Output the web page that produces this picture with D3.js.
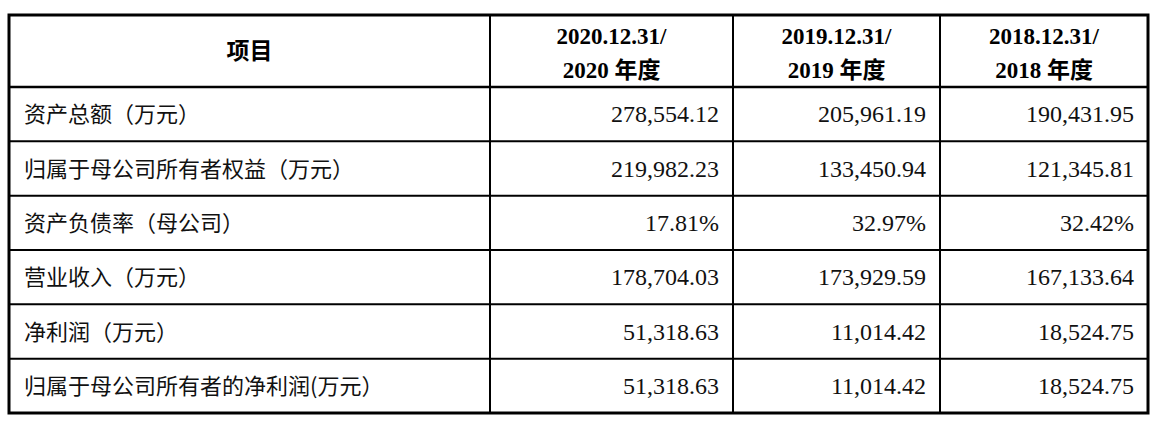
<!DOCTYPE html>
<html><head><meta charset="utf-8">
<script src="https://cdn.jsdelivr.net/npm/d3@7"></script>
<style>body{margin:0;background:#fff}</style></head>
<body><svg id="c" width="1162" height="430"></svg>
<script>
const headers1 = ["项目", "2020.12.31/", "2019.12.31/", "2018.12.31/"];
const headers2 = ["", "2020 年度", "2019 年度", "2018 年度"];
const items = ["资产总额（万元）","归属于母公司所有者权益（万元）","资产负债率（母公司）","营业收入（万元）","净利润（万元）","归属于母公司所有者的净利润(万元）"];
const v2020 = ["278,554.12","219,982.23","17.81%","178,704.03","51,318.63","51,318.63"];
const v2019 = ["205,961.19","133,450.94","32.97%","173,929.59","11,014.42","11,014.42"];
const v2018 = ["190,431.95","121,345.81","32.42%","167,133.64","18,524.75","18,524.75"];
const cols = [v2020, v2019, v2018];

(function(){
const svg = d3.select("#c");
const colEdges = [9, 490, 733, 940, 1148];
const tableTop = 15, headBottom = 87, tableBottom = 413;
const y = d3.scaleBand().domain(d3.range(items.length)).range([headBottom, tableBottom]);
const serif = "'Liberation Serif','Times New Roman',serif";
const cjk = "'Noto Sans CJK SC',sans-serif";

y.domain().slice(1).forEach(i => svg.append("line").attr("x1",colEdges[0]).attr("x2",colEdges[4]).attr("y1",y(i)).attr("y2",y(i)).attr("stroke","#000").attr("stroke-width",2));
svg.append("line").attr("x1",colEdges[0]).attr("x2",colEdges[4]).attr("y1",headBottom).attr("y2",headBottom).attr("stroke","#000").attr("stroke-width",2.5);
colEdges.slice(1,4).forEach(x => svg.append("line").attr("x1",x).attr("x2",x).attr("y1",tableTop).attr("y2",tableBottom).attr("stroke","#000").attr("stroke-width",2));
svg.append("rect").attr("x",colEdges[0]).attr("y",tableTop).attr("width",colEdges[4]-colEdges[0]).attr("height",tableBottom-tableTop).attr("fill","none").attr("stroke","#000").attr("stroke-width",3);

svg.append("text").attr("x",(colEdges[0]+colEdges[1])/2).attr("y",(tableTop+headBottom)/2+8).attr("text-anchor","middle")
  .attr("font-family",cjk).attr("font-weight","bold").attr("font-size",23).text(headers1[0]);
for (let c=1;c<4;c++){
  const cx=(colEdges[c]+colEdges[c+1])/2;
  svg.append("text").attr("x",cx).attr("y",tableTop+29).attr("text-anchor","middle").attr("font-family",serif).attr("font-weight","bold").attr("font-size",23).text(headers1[c]);
  const t=svg.append("text").attr("x",cx).attr("y",tableTop+63).attr("text-anchor","middle").attr("font-weight","bold").attr("font-size",23);
  const parts=headers2[c].split(" ");
  t.append("tspan").attr("font-family",serif).text(parts[0]+" ");
  t.append("tspan").attr("font-family",cjk).text(parts[1]);
}
items.forEach((it,i)=>{
  const cy=y(i)+y.bandwidth()/2+8;
  svg.append("text").attr("x",colEdges[0]+15).attr("y",cy).attr("font-family",cjk).attr("font-size",22).attr("fill","#111").text(it);
  cols.forEach((col,c)=>{
    svg.append("text").attr("x",colEdges[c+2]-14).attr("y",cy).attr("text-anchor","end").attr("font-family",serif).attr("font-size",24).attr("fill","#111").text(col[i]);
  });
});
})();
</script></body></html>
